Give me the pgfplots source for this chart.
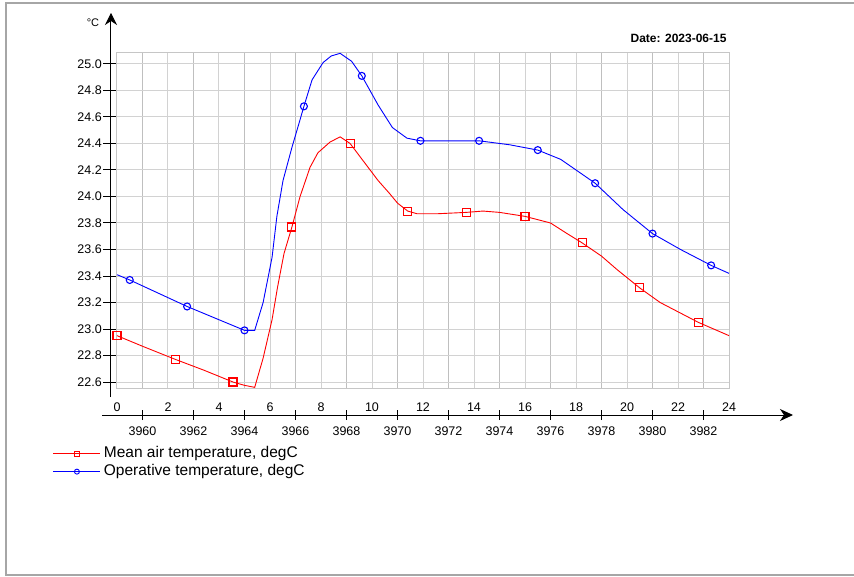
\documentclass[border=0pt]{standalone}
\usepackage{pgfplots}
\pgfplotsset{compat=1.18}
\usepackage{fontspec}
\setmainfont{Liberation Sans}
\usetikzlibrary{arrows.meta}
\begin{document}
\begin{tikzpicture}[x=1pt,y=1pt]
\begin{axis}[
  scale only axis, width=612pt, height=336pt,
  at={(0pt,0pt)}, anchor=south west,
  xmin=0, xmax=24, ymin=22.555, ymax=25.09,
  axis line style={draw=gray!45, line width=1pt},
  xtick={0,2,...,24}, minor xtick={1,3,...,23}, xticklabels={},
  xmajorgrids, xminorgrids, ymajorgrids,
  major grid style={gray!35, line width=1pt},
  minor grid style={gray!50, line width=1pt},
  x tick style={draw=none}, minor tick length=0pt,
  ytick={22.6,22.8,23.0,23.2,23.4,23.6,23.8,24.0,24.2,24.4,24.6,24.8,25.0},
  yticklabels={22.6,22.8,23.0,23.2,23.4,23.6,23.8,24.0,24.2,24.4,24.6,24.8,25.0},
  ytick pos=left, tick align=outside, y tick style={black, line width=1pt},
  major tick length=14pt,
  yticklabel style={font=\fontsize{12.5}{14}\selectfont, inner sep=1pt},
  /pgf/number format/assume math mode=true,
  legend image code/.code={\draw[mark repeat=2,mark phase=2,#1] plot coordinates {(0pt,0pt) (23.5pt,0pt) (47pt,0pt)};},
  legend style={at={(-0.1046,-0.173)}, anchor=north west, draw=none, fill=none,
    inner sep=0pt, outer sep=0pt, row sep=3pt, column sep=3pt,
    font=\fontsize{15.5}{18}\selectfont,
    nodes={inner sep=0pt, text height=11pt, text depth=4pt}},
  legend cell align=left,
]
\addlegendimage{red, line width=0.9pt, mark=square, mark size=2.5pt, mark options={draw=red, fill=white}}
\addlegendentry{Mean air temperature, degC}
\addlegendimage{blue, line width=0.9pt, mark=o, mark size=2.5pt, mark options={draw=blue, fill=white}}
\addlegendentry{Operative temperature, degC}

\addplot[red, line width=0.9pt, forget plot] coordinates {
(0,22.95) (1,22.87) (2.3,22.77) (3.4,22.69) (4.55,22.60) (5.0,22.575) (5.4,22.56)
(5.73,22.78) (6.08,23.07) (6.3,23.32) (6.55,23.57) (6.86,23.77) (7.18,24.00)
(7.57,24.22) (7.88,24.33) (8.35,24.41) (8.75,24.45) (9.14,24.40) (9.65,24.27)
(10.24,24.12) (10.7,24.02) (11.0,23.95) (11.4,23.89) (11.76,23.87) (12.6,23.87)
(13.7,23.88) (14.35,23.89) (15.0,23.88) (16.0,23.85) (17.0,23.80) (17.65,23.72)
(18.24,23.65) (19.0,23.55) (19.6,23.45) (20.5,23.31) (21.3,23.20) (22.1,23.12)
(22.8,23.05) (24,22.95)};
\addplot[red, only marks, mark=square, mark size=4pt, mark options={draw=red, line width=1.1pt}, forget plot] coordinates {
(0,22.95) (2.3,22.77) (4.55,22.60) (6.86,23.77) (9.14,24.40) (11.4,23.89)
(13.7,23.88) (16.0,23.85) (18.24,23.65) (20.5,23.31) (22.8,23.05)};

\addplot[blue, line width=0.9pt, forget plot] coordinates {
(0,23.41) (0.5,23.37) (2.75,23.17) (5.0,22.99) (5.4,22.99) (5.73,23.20) (6.08,23.54)
(6.27,23.85) (6.51,24.12) (6.86,24.37) (7.18,24.58) (7.33,24.68) (7.65,24.88)
(8.08,25.01) (8.4,25.06) (8.75,25.08) (9.2,25.02) (9.6,24.91) (10.24,24.69)
(10.8,24.52) (11.37,24.44) (11.9,24.42) (13.0,24.42) (14.2,24.42) (15.4,24.39)
(16.5,24.35) (17.4,24.28) (18.75,24.10) (19.85,23.90) (21.0,23.72) (22.1,23.60)
(23.3,23.48) (24,23.42)};
\addplot[blue, only marks, mark=o, mark size=3.5pt, mark options={draw=blue, line width=1.1pt}, forget plot] coordinates {
(0.5,23.37) (2.75,23.17) (5.0,22.99) (7.33,24.68) (9.6,24.91) (11.9,24.42)
(14.2,24.42) (16.5,24.35) (18.75,24.10) (21.0,23.72) (23.3,23.48)};
\end{axis}

% primary hour labels
\begin{axis}[
  scale only axis, width=612pt, height=10pt,
  at={(0pt,-27pt)}, anchor=south west,
  xmin=0, xmax=24, ymin=0, ymax=1,
  axis x line=bottom, axis y line=none,
  x axis line style={draw=none},
  xtick={0,2,...,24}, major tick length=0pt,
  /pgf/number format/assume math mode=true,
  xticklabel style={font=\fontsize{12.5}{14}\selectfont, anchor=south},
]
\end{axis}

% secondary axis line with ticks
\begin{axis}[
  scale only axis, width=691pt, height=10pt,
  at={(-15pt,-27pt)}, anchor=south west,
  xmin=-0.5882, xmax=26.51, ymin=0, ymax=1,
  axis x line=bottom, axis y line=none,
  x axis line style={black, line width=1pt, -{Stealth[length=13pt,width=12pt,inset=4pt]}},
  xtick={1,3,5,7,9,11,13,15,17,19,21,23},
  xticklabels={3960,3962,3964,3966,3968,3970,3972,3974,3976,3978,3980,3982},
  tick align=center, major tick length=10pt,
  x tick style={black, line width=1.3pt},
  xticklabel shift=3pt,
  xticklabel style={font=\fontsize{12.5}{14}\selectfont},
]
\end{axis}

% y axis line with arrow
\draw[black, line width=1pt, -{Stealth[length=12pt,width=12pt,inset=4pt]}] (-6pt,-9pt) -- (-6pt,375pt);
\node[font=\fontsize{11}{12}\selectfont] at (-24pt,365pt) {°C};
\node[anchor=base east, font=\bfseries\fontsize{12}{14}\selectfont] at (613pt,345pt) {Date: 2023-06-15};

% outer frame
\draw[gray!70, line width=1.5pt] (740pt,385pt) -- (-111pt,385pt) -- (-111pt,-187pt) -- (740pt,-187pt);

\pgfresetboundingbox
\useasboundingbox (-117pt,-188pt) rectangle (737pt,388pt);
\end{tikzpicture}
\end{document}
